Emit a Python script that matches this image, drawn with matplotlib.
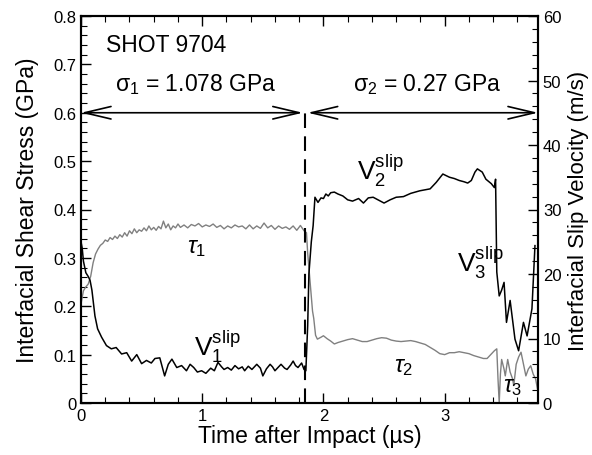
import matplotlib
matplotlib.use("Agg")
import matplotlib.pyplot as plt
from matplotlib.ticker import MultipleLocator

plt.rcParams['font.family'] = ['Liberation Sans', 'DejaVu Sans']
plt.rcParams['mathtext.fontset'] = 'custom'
plt.rcParams['mathtext.rm'] = 'Liberation Sans'
plt.rcParams['mathtext.it'] = 'Liberation Sans:italic'
plt.rcParams['mathtext.sf'] = 'Liberation Sans'

# ---- data ----
tau_t = [0.00, 0.02, 0.04, 0.06, 0.08, 0.10, 0.12, 0.14, 0.16, 0.18, 0.20, 0.22, 0.24, 0.26, 0.28,
         0.30, 0.32, 0.34, 0.36, 0.38, 0.40, 0.42, 0.44, 0.46, 0.48, 0.50, 0.52, 0.54, 0.56, 0.58,
         0.60, 0.62, 0.64, 0.66, 0.68, 0.70, 0.72, 0.74, 0.76, 0.78, 0.80, 0.82, 0.85, 0.88, 0.91,
         0.94, 0.97, 1.00, 1.03, 1.06, 1.09, 1.12, 1.15, 1.18, 1.21, 1.24, 1.27, 1.30, 1.33, 1.36,
         1.39, 1.42, 1.45, 1.48, 1.51, 1.54, 1.57, 1.60, 1.63, 1.66, 1.69, 1.72, 1.75, 1.78, 1.81,
         1.84, 1.86, 1.87, 1.89, 1.91, 1.92, 1.935, 1.95, 1.98, 2.00, 2.03, 2.06, 2.09, 2.12, 2.16,
         2.20, 2.24, 2.28, 2.32, 2.36, 2.40, 2.44, 2.48, 2.52, 2.56, 2.60, 2.64, 2.68, 2.72, 2.76,
         2.80, 2.84, 2.88, 2.92, 2.96, 3.00, 3.04, 3.08, 3.12, 3.16, 3.20, 3.24, 3.28, 3.32, 3.35,
         3.38, 3.41, 3.43, 3.44, 3.45, 3.46, 3.47, 3.49, 3.50, 3.52, 3.54, 3.56, 3.57, 3.59, 3.61,
         3.63, 3.65, 3.67, 3.69, 3.71, 3.73, 3.75, 3.765]
tau_gpa = [0.205, 0.232, 0.240, 0.246, 0.262, 0.290, 0.308, 0.318, 0.326, 0.330, 0.337, 0.334, 0.342, 0.338, 0.345,
           0.340, 0.348, 0.343, 0.352, 0.345, 0.356, 0.350, 0.360, 0.352, 0.358, 0.355, 0.362, 0.356, 0.366, 0.358,
           0.363, 0.357, 0.365, 0.360, 0.376, 0.362, 0.370, 0.358, 0.366, 0.362, 0.370, 0.363, 0.368, 0.362, 0.369,
           0.366, 0.371, 0.364, 0.368, 0.365, 0.370, 0.363, 0.367, 0.360, 0.366, 0.362, 0.368, 0.364, 0.366, 0.360,
           0.368, 0.360, 0.366, 0.361, 0.372, 0.362, 0.367, 0.359, 0.366, 0.361, 0.364, 0.359, 0.366, 0.357, 0.367,
           0.356, 0.352, 0.310, 0.250, 0.190, 0.175, 0.140, 0.132, 0.136, 0.139, 0.133, 0.128, 0.122, 0.125, 0.128,
           0.131, 0.133, 0.130, 0.127, 0.127, 0.130, 0.133, 0.135, 0.134, 0.130, 0.128, 0.127, 0.128, 0.129, 0.127,
           0.124, 0.121, 0.115, 0.109, 0.102, 0.100, 0.104, 0.104, 0.106, 0.104, 0.102, 0.098, 0.095, 0.092, 0.092,
           0.100, 0.108, 0.112, 0.050, 0.000, 0.060, 0.090, 0.070, 0.056, 0.090, 0.064, 0.050, 0.036, 0.080, 0.095,
           0.105, 0.080, 0.056, 0.070, 0.077, 0.060, 0.050, 0.030]

vel_t = [0.00, 0.01, 0.02, 0.04, 0.06, 0.075, 0.09, 0.115, 0.137, 0.17, 0.21, 0.25, 0.29, 0.335, 0.377,
         0.418, 0.46, 0.50, 0.54, 0.58, 0.61, 0.65, 0.69, 0.72, 0.75, 0.79, 0.83, 0.87, 0.90, 0.93,
         0.96, 0.995, 1.03, 1.07, 1.10, 1.13, 1.16, 1.18, 1.21, 1.24, 1.27, 1.30, 1.33, 1.35, 1.38,
         1.41, 1.45, 1.48, 1.50, 1.53, 1.56, 1.58, 1.60, 1.63, 1.65, 1.68, 1.70, 1.73, 1.75, 1.77,
         1.79, 1.82, 1.84, 1.855, 1.87, 1.88, 1.90, 1.915, 1.93, 1.955, 1.98, 2.00, 2.02, 2.04, 2.06,
         2.09, 2.12, 2.16, 2.20, 2.24, 2.29, 2.33, 2.37, 2.41, 2.46, 2.50, 2.55, 2.60, 2.66, 2.72,
         2.795, 2.88, 2.93, 2.985, 3.04, 3.08, 3.12, 3.16, 3.19, 3.22, 3.25, 3.27, 3.31, 3.34, 3.385,
         3.41, 3.42, 3.43, 3.45, 3.47, 3.49, 3.51, 3.54, 3.58, 3.61, 3.65, 3.68, 3.72, 3.745]
vel_ms = [25.0, 24.0, 22.0, 20.2, 19.6, 19.0, 17.5, 13.5, 11.5, 10.2, 8.9, 8.4, 8.6, 7.6, 7.8,
          6.5, 7.5, 6.1, 6.6, 6.2, 6.9, 7.0, 4.2, 6.0, 6.8, 5.5, 5.8, 5.0, 6.0, 5.5,
          4.8, 5.0, 4.6, 5.4, 5.0, 6.3, 5.6, 5.2, 5.5, 5.1, 5.8, 5.3, 5.6, 5.0, 5.7,
          5.2, 6.0, 5.4, 4.2, 5.3, 6.0, 5.6, 5.0, 5.6, 6.0, 5.4, 5.2, 5.9, 6.5, 5.8,
          5.5, 6.2, 5.2, 5.0, 12.0, 20.0, 25.0, 27.5, 31.9, 31.1, 31.8, 31.7, 32.4, 32.1, 32.6,
          32.7, 32.4, 32.1, 31.5, 31.3, 31.7, 31.0, 31.8, 31.9, 31.4, 31.0, 31.5, 31.9, 32.0, 32.5,
          32.9, 33.2, 34.2, 35.5, 35.0, 34.8, 34.5, 34.3, 34.1, 34.5, 35.8, 36.3, 35.8, 34.7, 34.0,
          33.4, 34.7, 20.3, 16.6, 17.5, 18.7, 12.5, 15.9, 9.9, 8.1, 12.5, 10.4, 14.6, 24.4]

t_split = 1.85
arrow_y = 0.6
texts_shot = "SHOT 9704"
sigma1_text = r"$\mathrm{\sigma}_1$ = 1.078 GPa"
sigma2_text = r"$\mathrm{\sigma}_2$ = 0.27 GPa"

# ---- figure ----
fig = plt.figure(figsize=(5.92, 4.56), dpi=100)
ax = fig.add_axes([81/592, 1-404/456, (538-81)/592, (404-17)/456])
ax2 = ax.twinx()

ax.plot(tau_t, tau_gpa, color='#808080', lw=1.0)
ax2.plot(vel_t, vel_ms, color='black', lw=1.1)

ax.set_xlim(0, 3.77)
ax.set_ylim(0, 0.8)
ax2.set_ylim(0, 60)

ax.xaxis.set_major_locator(MultipleLocator(1))
ax.xaxis.set_minor_locator(MultipleLocator(0.2))
ax.yaxis.set_major_locator(MultipleLocator(0.1))
ax.yaxis.set_minor_locator(MultipleLocator(0.02))
ax2.yaxis.set_major_locator(MultipleLocator(10))
ax2.yaxis.set_minor_locator(MultipleLocator(2))

def fmt_left(v, p):
    if abs(v) < 1e-9:
        return "0"
    return f"{v:.1f}"
ax.yaxis.set_major_formatter(plt.FuncFormatter(fmt_left))

ax.tick_params(axis='x', which='both', direction='in', top=True, bottom=True, labelsize=12)
ax.tick_params(axis='y', which='both', direction='in', left=True, right=False, labelsize=12)
ax2.tick_params(axis='y', which='both', direction='in', right=True, left=False, labelsize=12)
for a in (ax, ax2):
    a.tick_params(which='major', length=7, width=1.0)
    a.tick_params(which='minor', length=4, width=0.8)
    for s in a.spines.values():
        s.set_linewidth(1.5)

ax.set_xlabel("Time after Impact (\u00b5s)", fontsize=16.5, labelpad=1)
ax.set_ylabel("Interfacial Shear Stress (GPa)", fontsize=16.5, labelpad=10)
ax2.set_ylabel("Interfacial Slip Velocity (m/s)", fontsize=16, labelpad=5)

# dashed separator
ax.plot([t_split, t_split], [0, arrow_y], color='black', lw=1.5, ls=(0, (7, 4)))

# arrows
ap = dict(arrowstyle='<->,head_length=1.9,head_width=0.45', lw=1.2, color='black',
          shrinkA=0, shrinkB=0)
ax.annotate('', xy=(0.0, arrow_y), xytext=(t_split - 0.02, arrow_y), arrowprops=ap)
ax.annotate('', xy=(t_split + 0.02, arrow_y), xytext=(3.77, arrow_y), arrowprops=ap)

ax.text(0.21, 0.742, texts_shot, fontsize=16.5, va='center', ha='left')
ax.text(0.28, 0.66, sigma1_text, fontsize=16.5, va='center', ha='left')
ax.text(2.24, 0.66, sigma2_text, fontsize=16.5, va='center', ha='left')

ax.text(0.95, 0.322, r"$\tau_1$", fontsize=17, va='center', ha='center')
ax.text(2.66, 0.077, r"$\tau_2$", fontsize=17, va='center', ha='center')
ax.text(3.56, 0.036, r"$\tau_3$", fontsize=17, va='center', ha='center')
ax.text(0.93, 0.099, r"$\mathrm{V}_1^{\mathrm{slip}}$", fontsize=19, va='baseline', ha='left')
ax.text(2.275, 0.463, r"$\mathrm{V}_2^{\mathrm{slip}}$", fontsize=19, va='baseline', ha='left')
ax.text(3.10, 0.273, r"$\mathrm{V}_3^{\mathrm{slip}}$", fontsize=19, va='baseline', ha='left')

fig.savefig("out.png", dpi=100)
